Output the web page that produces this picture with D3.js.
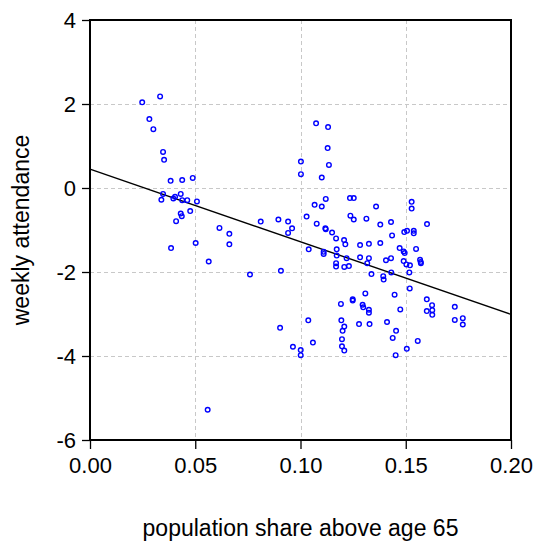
<!DOCTYPE html>
<html>
<head>
<meta charset="utf-8">
<script src="https://cdn.jsdelivr.net/npm/d3@7"></script>
<style>
  html, body { margin: 0; padding: 0; background: #fff; }
  svg { display: block; }
  text { font-family: "Liberation Sans", Arial, sans-serif; }
</style>
</head>
<body>
<svg id="chart" width="536" height="551"></svg>
<script>
// ---- data ----
const shareAbove65 = [
  0.0248,0.0333,0.0282,0.0301,0.0347,0.0352,0.0383,0.0438,0.0488,0.0347,
  0.0339,0.0404,0.0396,0.0431,0.0438,0.0462,0.0508,0.0476,0.0431,0.0436,
  0.0409,0.0615,0.0385,0.0502,0.0564,0.0559,0.1074,0.1131,0.1129,0.1002,
  0.1135,0.1002,0.1101,0.1120,0.1067,0.1101,0.1235,0.1253,0.1029,0.1237,
  0.1253,0.1313,0.0811,0.0895,0.0941,0.0960,0.0941,0.1077,0.1118,0.1120,
  0.1150,0.1169,0.1207,0.1213,0.1283,0.1325,0.0662,0.0662,0.1039,0.1110,
  0.1110,0.1172,0.1172,0.1219,0.1283,0.1325,0.1169,0.1169,0.1208,0.1230,
  0.1317,0.0760,0.0907,0.1337,0.1308,0.1248,0.1248,0.1192,0.1295,0.1298,
  0.1325,0.1325,0.1037,0.0903,0.1194,0.1208,0.1200,0.1278,0.1328,0.1059,
  0.0964,0.1001,0.1001,0.1197,0.1197,0.1208,0.1528,0.1528,0.1359,0.1379,
  0.1430,0.1601,0.1435,0.1493,0.1506,0.1538,0.1538,0.1379,0.1471,0.1490,
  0.1495,0.1549,0.1406,0.1430,0.1490,0.1503,0.1520,0.1568,0.1571,0.1572,
  0.1393,0.1395,0.1431,0.1517,0.1447,0.1519,0.1474,0.1600,0.1625,0.1600,
  0.1626,0.1626,0.1733,0.1733,0.1771,0.1771,0.1411,0.1454,0.1438,0.1557,
  0.1505,0.1452
];
const weeklyAttendance = [
  2.04,2.18,1.64,1.40,0.86,0.67,0.17,0.19,0.24,-0.14,
  -0.28,-0.21,-0.25,-0.14,-0.29,-0.29,-0.32,-0.55,-0.61,-0.67,
  -0.79,-0.95,-1.43,-1.31,-1.75,-5.28,1.54,1.45,0.95,0.63,
  0.55,0.33,0.25,-0.26,-0.40,-0.44,-0.24,-0.24,-0.68,-0.66,
  -0.75,-0.73,-0.80,-0.75,-0.80,-0.96,-1.07,-0.85,-0.96,-0.98,
  -1.06,-1.20,-1.24,-1.34,-1.36,-1.33,-1.09,-1.34,-1.46,-1.52,
  -1.57,-1.46,-1.61,-1.67,-1.65,-1.67,-1.79,-1.87,-1.88,-1.86,
  -1.79,-2.06,-1.97,-2.05,-2.51,-2.65,-2.68,-2.76,-2.78,-2.84,
  -2.90,-2.97,-3.15,-3.33,-3.15,-3.30,-3.40,-3.24,-3.24,-3.68,
  -3.78,-3.86,-3.98,-3.60,-3.77,-3.87,-0.33,-0.49,-0.44,-0.87,
  -0.81,-0.86,-1.13,-1.05,-1.02,-1.02,-1.08,-1.31,-1.43,-1.51,
  -1.55,-1.45,-1.72,-1.67,-1.74,-1.82,-1.84,-1.71,-1.76,-1.79,
  -2.10,-2.18,-2.01,-2.01,-2.54,-2.39,-2.89,-2.65,-2.79,-2.93,
  -2.91,-3.02,-2.83,-3.14,-3.10,-3.25,-3.19,-3.40,-3.57,-3.64,
  -3.83,-3.98
];
const fitX = [0.0, 0.20];
const fitY = [0.45, -3.01];
const xTicks = [0.00, 0.05, 0.10, 0.15, 0.20];
const yTicks = [4, 2, 0, -2, -4, -6];
const xGrid = [0.05, 0.10, 0.15];
const yGrid = [2, 0, -2, -4];
const xTitle = "population share above age 65";
const yTitle = "weekly attendance";

// ---- layout ----
const L = 90, R = 511, T = 20, B = 440;
const svg = d3.select("#chart");
const x = d3.scaleLinear().domain([0, 0.20]).range([L, R]);
const y = d3.scaleLinear().domain([-6, 4]).range([B, T]);

// grid
const grid = svg.append("g").attr("stroke", "#c8c8c8").attr("stroke-width", 1)
  .attr("stroke-dasharray", "4,3");
grid.selectAll("line.gx").data(xGrid).join("line")
  .attr("x1", d => Math.round(x(d)) + 0.5).attr("x2", d => Math.round(x(d)) + 0.5)
  .attr("y1", T).attr("y2", B);
grid.selectAll("line.gy").data(yGrid).join("line")
  .attr("y1", d => Math.round(y(d)) + 0.5).attr("y2", d => Math.round(y(d)) + 0.5)
  .attr("x1", L).attr("x2", R);

// fit line
const fit = fitX.map((v, i) => [v, fitY[i]]);
svg.append("path").datum(fit)
  .attr("d", d3.line().x(d => x(d[0])).y(d => y(d[1])))
  .attr("fill", "none").attr("stroke", "#000").attr("stroke-width", 1.4);

// points
const pts = shareAbove65.map((v, i) => [v, weeklyAttendance[i]]);
svg.append("g").selectAll("circle").data(pts).join("circle")
  .attr("cx", d => x(d[0])).attr("cy", d => y(d[1])).attr("r", 2.3)
  .attr("fill", "none").attr("stroke", "#0000ff").attr("stroke-width", 1.4);

// axes
const fmt = d3.format(".2f");
const xAxis = svg.append("g").attr("transform", `translate(0,${B})`)
  .call(d3.axisBottom(x).tickValues(xTicks).tickFormat(fmt).tickSize(9).tickPadding(8));
const yAxis = svg.append("g").attr("transform", `translate(${L},0)`)
  .call(d3.axisLeft(y).tickValues(yTicks).tickFormat(d => String(d)).tickSize(8).tickPadding(6));
[xAxis, yAxis].forEach(a => {
  a.select(".domain").remove();
  a.selectAll(".tick line").attr("stroke", "#000").attr("stroke-width", 1.3);
  a.selectAll(".tick text").attr("fill", "#000")
    .style("font-family", '"Liberation Sans", Arial, sans-serif').style("font-size", "22px");
});

// frame
svg.append("rect").attr("x", L).attr("y", T).attr("width", R - L).attr("height", B - T)
  .attr("fill", "none").attr("stroke", "#000").attr("stroke-width", 2);

// titles
svg.append("text").attr("x", (L + R) / 2).attr("y", 536).attr("text-anchor", "middle")
  .style("font-size", "23px").text(xTitle);
svg.append("text").attr("transform", `translate(29,${(T + B) / 2}) rotate(-90)`)
  .attr("text-anchor", "middle").style("font-size", "23px").text(yTitle);
</script>
</body>
</html>
